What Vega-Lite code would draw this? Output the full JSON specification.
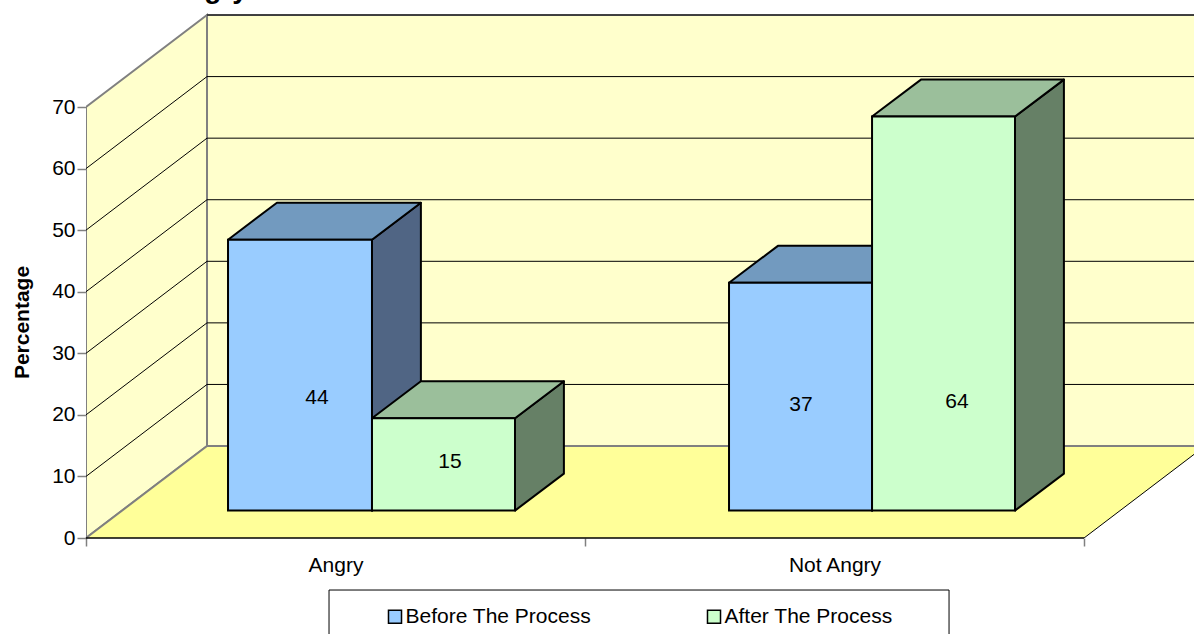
{
"$schema":"https://vega.github.io/schema/vega-lite/v6.json",
"width":1108,"height":538,
"autosize":{"type":"none"},
"padding":{"left":86,"top":0,"right":0,"bottom":96},
"background":"white",
"title":{"text":"Angry","anchor":"start","frame":"group","offset":-3.5,"dx":81,"fontSize":28,"fontWeight":"bold","font":"Liberation Sans","color":"black"},
"config":{"view":{"stroke":null},"font":"Liberation Sans"},
"datasets":{
"bars":[
{"category":"Angry","series":"Before The Process","value":44,"left":0.2846,"right":0.5731,"labelU":0.4629,"labelV":22.74},
{"category":"Angry","series":"After The Process","value":15,"left":0.5731,"right":0.8597,"labelU":0.7295,"labelV":12.34},
{"category":"Not Angry","series":"Before The Process","value":37,"left":1.2886,"right":1.5752,"labelU":1.4329,"labelV":21.6},
{"category":"Not Angry","series":"After The Process","value":64,"left":1.5752,"right":1.8617,"labelU":1.7455,"labelV":22.09}
],
"frame":[
{"face":"side","u":0,"lo":0,"hi":70},
{"face":"side","u":0.2425,"lo":14.94,"hi":84.94},
{"face":"back","u":0.2425,"lo":14.94,"hi":84.94},
{"face":"back","u":2.2425,"lo":14.94,"hi":84.94},
{"face":"floor","u":0,"lo":0,"hi":0},
{"face":"floor","u":0.2425,"lo":0,"hi":14.94},
{"face":"floor","u":2,"lo":0,"hi":14.94},
{"face":"floor","u":2.2425,"lo":14.94,"hi":14.94}
],
"levels":[{"v":10},{"v":20},{"v":30},{"v":40},{"v":50},{"v":60},{"v":70}]
},
"data":{"name":"bars"},
"layer":[
{"data":{"name":"frame"},"transform":[{"filter":"datum.face!='floor'"}],
 "mark":{"type":"area","interpolate":"linear","fill":"#FFFFCC","stroke":"#808080","strokeWidth":2,"clip":true},
 "encoding":{"detail":{"field":"face"},
  "x":{"field":"u","type":"quantitative","scale":{"domain":[0,2.2204],"nice":false,"zero":false},
   "axis":{"title":null,"values":[0,0.5,1,1.5,2],"domain":false,"grid":false,"tickSize":8,"tickColor":"#808080","tickWidth":1.5,"tickOpacity":{"condition":{"test":"datum.value==0.5||datum.value==1.5","value":0},"value":1},"labelExpr":"datum.value==0.5?'Angry':datum.value==1.5?'Not Angry':''","labelFontSize":21,"labelColor":"black","labelPadding":8,"labelFont":"Liberation Sans","labelFlush":false,"labelOverlap":false}},
  "y":{"field":"lo","type":"quantitative","scale":{"domain":[0,87.38],"nice":false,"zero":false},
   "axis":{"title":"Percentage","titleFontSize":21,"titleFontWeight":"bold","titleColor":"black","titleFont":"Liberation Sans","titleY":322,"titleX":-54,"values":[0,10,20,30,40,50,60,70],"domain":false,"grid":false,"tickSize":9,"tickColor":"#808080","tickWidth":1.5,"labelFontSize":21,"labelColor":"black","labelPadding":2,"labelFont":"Liberation Sans"}},
  "y2":{"field":"hi"}}},
{"data":{"name":"levels"},"transform":[{"calculate":"datum.v+14.94","as":"vb"},{"calculate":"0.2425","as":"ub"},{"calculate":"2.2425","as":"ue"}],
 "mark":{"type":"rule","color":"#000000","strokeWidth":1,"clip":true},
 "encoding":{"x":{"field":"ub","type":"quantitative"},"x2":{"field":"ue"},"y":{"field":"vb","type":"quantitative"},"y2":{"field":"vb"}}},
{"data":{"name":"levels"},"transform":[{"filter":"datum.v<70"},{"calculate":"datum.v+14.94","as":"vb"},{"calculate":"0.2425","as":"ub"},{"calculate":"0","as":"uf"}],
 "mark":{"type":"rule","color":"#000000","strokeWidth":1},
 "encoding":{"x":{"field":"uf","type":"quantitative"},"x2":{"field":"ub"},"y":{"field":"v","type":"quantitative"},"y2":{"field":"vb"}}},
{"data":{"name":"frame"},"transform":[{"filter":"datum.face=='floor'"}],
 "mark":{"type":"area","interpolate":"linear","fill":"#FFFF99","clip":true},
 "encoding":{"x":{"field":"u","type":"quantitative"},"y":{"field":"lo","type":"quantitative"},"y2":{"field":"hi"}}},
{"data":{"name":"frame"},"transform":[{"filter":"datum.face=='floor'&&datum.u<1"}],
 "mark":{"type":"line","interpolate":"linear","color":"#808080","strokeWidth":2},
 "encoding":{"x":{"field":"u","type":"quantitative"},"y":{"field":"hi","type":"quantitative"}}},
{"data":{"name":"frame"},"transform":[{"filter":"datum.face=='back'"}],
 "mark":{"type":"line","interpolate":"linear","color":"#808080","strokeWidth":2,"clip":true},
 "encoding":{"x":{"field":"u","type":"quantitative"},"y":{"field":"lo","type":"quantitative"}}},
{"data":{"name":"frame"},"transform":[{"filter":"datum.face=='floor'&&(datum.u==0||datum.u==2)"}],
 "mark":{"type":"line","interpolate":"linear","color":"#000000","strokeWidth":1.5},
 "encoding":{"x":{"field":"u","type":"quantitative"},"y":{"field":"lo","type":"quantitative"}}},
{"data":{"name":"frame"},"transform":[{"filter":"datum.face=='floor'&&datum.u>=2"}],
 "mark":{"type":"line","interpolate":"linear","color":"#000000","strokeWidth":1,"clip":true},
 "encoding":{"x":{"field":"u","type":"quantitative"},"y":{"field":"lo","type":"quantitative"}}},
{"data":{"values":[{"name":"legend box","u":0.487,"u2":1.7295,"lo":-8.45,"hi":-18}]},
 "mark":{"type":"rect","fill":"white","stroke":"black","strokeWidth":1},
 "encoding":{"x":{"field":"u","type":"quantitative"},"x2":{"field":"u2"},"y":{"field":"lo","type":"quantitative"},"y2":{"field":"hi"}}},
{"transform":[{"calculate":"[0,1]","as":"i"},{"flatten":["i"]},
  {"calculate":"datum.i==0?datum.right:datum.right+0.098","as":"sx"},
  {"calculate":"datum.i==0?4.45:10.45","as":"sl"},
  {"calculate":"datum.i==0?4.45+datum.value:10.45+datum.value","as":"sh"}],
 "mark":{"type":"area","interpolate":"linear","stroke":"black","strokeWidth":2,"strokeJoin":"round"},
 "encoding":{"detail":[{"field":"category"},{"field":"series"}],
  "x":{"field":"sx","type":"quantitative"},"y":{"field":"sl","type":"quantitative"},"y2":{"field":"sh"},
  "fill":{"field":"series","type":"nominal","scale":{"domain":["Before The Process","After The Process"],"range":["#506584","#668066"]},"legend":null}}},
{"transform":[{"calculate":"[0,1,2,3]","as":"i"},{"flatten":["i"]},
  {"calculate":"datum.i==0?datum.left:datum.i==1?datum.left+0.098:datum.i==2?datum.right:datum.right+0.098","as":"tx"},
  {"calculate":"4.45+datum.value","as":"fy"},
  {"calculate":"datum.i==3?datum.fy+6:datum.fy","as":"tl"},
  {"calculate":"datum.i==0?datum.fy:datum.fy+6","as":"th"}],
 "mark":{"type":"area","interpolate":"linear","stroke":"black","strokeWidth":2,"strokeJoin":"round"},
 "encoding":{"detail":[{"field":"category"},{"field":"series"}],
  "x":{"field":"tx","type":"quantitative"},"y":{"field":"tl","type":"quantitative"},"y2":{"field":"th"},
  "fill":{"field":"series","type":"nominal","scale":{"domain":["Before The Process","After The Process"],"range":["#729ABF","#9BBF9B"]},"legend":null}}},
{"transform":[{"calculate":"4.45","as":"b"},{"calculate":"4.45+datum.value","as":"t"}],
 "mark":{"type":"rect","stroke":"black","strokeWidth":2},
 "encoding":{"x":{"field":"left","type":"quantitative"},"x2":{"field":"right"},"y":{"field":"b","type":"quantitative"},"y2":{"field":"t"},
  "fill":{"field":"series","type":"nominal","title":null,"scale":{"domain":["Before The Process","After The Process"],"range":["#99CCFF","#CCFFCC"]},
   "legend":{"orient":"none","legendX":298.5,"legendY":606,"direction":"horizontal","columns":2,"symbolType":"square","symbolSize":170,"symbolStrokeColor":"black","symbolStrokeWidth":1.5,"labelFontSize":21,"labelColor":"black","labelFont":"Liberation Sans","padding":0,"columnPadding":112,"labelOffset":0,"labelLimit":300}}}},
{"mark":{"type":"text","fontSize":21,"color":"black","font":"Liberation Sans"},
 "encoding":{"x":{"field":"labelU","type":"quantitative"},"y":{"field":"labelV","type":"quantitative"},"text":{"field":"value","type":"quantitative"}}}
],
"resolve":{"scale":{"fill":"independent"}}
}
